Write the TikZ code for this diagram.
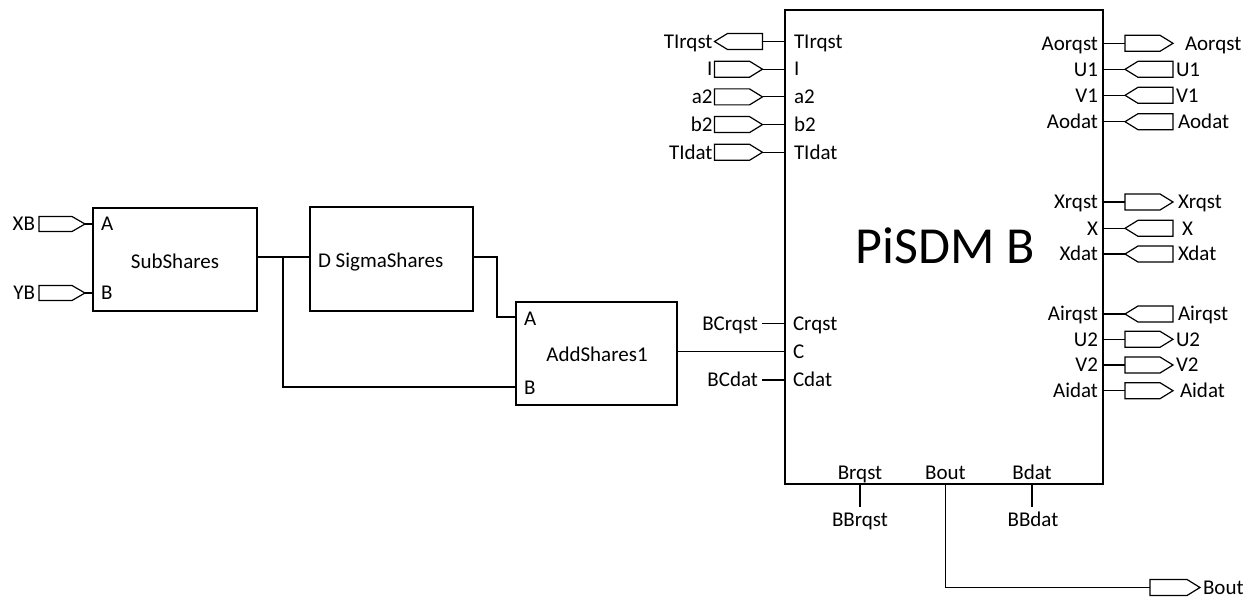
\documentclass[tikz,border=0pt]{standalone}
\usepackage{fontspec}
\setmainfont{Carlito}
\newcommand\pentR[1]{\draw[wire] (#1.north west) -- ([xshift=-13pt]#1.north east) -- (#1.east) -- ([xshift=-13pt]#1.south east) -- (#1.south west) -- cycle;}
\newcommand\pentL[1]{\draw[wire] (#1.north east) -- ([xshift=13pt]#1.north west) -- (#1.west) -- ([xshift=13pt]#1.south west) -- (#1.south east) -- cycle;}
\begin{document}
\begin{tikzpicture}[x=1pt,y=-1pt,
  every node/.style={font=\fontsize{21}{25}\selectfont, inner sep=0pt, outer sep=0pt},
  wire/.style={line width=1.2pt},
  block/.style={draw, line width=1.2pt, rectangle, inner sep=0pt},
  lbl/.style={text height=13.5pt, text depth=0pt},
  portbox/.style={rectangle, minimum width=48pt, minimum height=16pt}
]
\useasboundingbox (0,0) rectangle (1251,599);

% ---- main block
\node[block, minimum width=318pt, minimum height=474pt] (pisdm) at (944,247) {};
\node[font=\fontsize{52}{60}\selectfont, text height=34pt, text depth=0pt] (title) at (945,246) {PiSDM B};

% ---- left ports of PiSDM
\foreach \n/\y/\p in {TIrqst/41.5/\pentL, I/69.2/\pentR, a2/96.9/\pentR, b2/124.6/\pentR, TIdat/152.3/\pentR}{
  \node[portbox] (L\n) at (738.5,\y) {};
  \p{L\n}
  \node[lbl, anchor=east] (LL\n) at ([xshift=-2pt]L\n.west) {\n};
  \node[lbl, anchor=west] (LI\n) at (794,\y) {\n};
  \draw[wire] (L\n.east) -- (L\n.east -| pisdm.west);
}

% ---- right ports of PiSDM
\foreach \n/\y/\p/\lx in {Aorqst/43.3/\pentR/1185, U1/69.3/\pentL/1176, V1/95.3/\pentL/1176, Aodat/121.7/\pentL/1178,
    Xrqst/202/\pentR/1178, X/228.3/\pentL/1182, Xdat/254/\pentL/1178,
    Airqst/314/\pentL/1178, U2/339.3/\pentR/1176, V2/365/\pentR/1176, Aidat/390.7/\pentR/1180}{
  \node[portbox] (R\n) at (1149,\y) {};
  \p{R\n}
  \node[lbl, anchor=west] (RL\n) at (\lx,\y) {\n};
  \node[lbl, anchor=east] (RI\n) at (1098,\y) {\n};
  \draw[wire] (pisdm.east |- R\n.west) -- (R\n.west);
}

% ---- left C pins
\foreach \n/\y in {Crqst/323.3, C/351.7, Cdat/380}{
  \node[lbl, anchor=west] (CI\n) at (793,\y) {\n};
}
\node[lbl, anchor=east] (BCrqst) at (758,323.3) {BCrqst};
\node[lbl, anchor=east] (BCdat) at (758,380) {BCdat};
\draw[wire] ([xshift=4pt]BCrqst.east) -- (BCrqst.east -| pisdm.west);
\draw[wire] ([xshift=4pt]BCdat.east) -- (BCdat.east -| pisdm.west);

% ---- bottom pins
\node[lbl] (bBrqst) at (860,473) {Brqst};
\node[lbl] (bBout) at (945.5,473) {Bout};
\node[lbl] (bBdat) at (1032,473) {Bdat};
\node[lbl] (BBrqst) at (860,520) {BBrqst};
\node[lbl] (BBdat) at (1033,520) {BBdat};
\draw[wire] (pisdm.south -| bBrqst) -- ++(0,23);
\draw[wire] (pisdm.south -| bBdat) -- ++(0,23);
\node[portbox, minimum width=50pt] (pBout) at (1175,587.5) {};
\pentR{pBout}
\node[lbl, anchor=west] (lBout) at (1203,588) {Bout};
\draw[wire] (pisdm.south -| bBout) |- (pBout.west);

% ---- SubShares
\node[block, minimum width=164pt, minimum height=103pt] (sub) at (175,259.5) {};
\node[lbl] (subT) at (175,261.5) {SubShares};
\node[lbl, anchor=west] (subA) at (101,224) {A};
\node[lbl, anchor=west] (subB) at (101,293) {B};
\node[portbox, minimum width=46pt, minimum height=15pt] (pXB) at (62,224) {};
\node[portbox, minimum width=46pt, minimum height=15pt] (pYB) at (62,293) {};
\pentR{pXB}
\pentR{pYB}
\node[lbl, anchor=east] (lXB) at (35,224) {XB};
\node[lbl, anchor=east] (lYB) at (35,293) {YB};
\draw[wire] (pXB.east) -- (pXB.east -| sub.west);
\draw[wire] (pYB.east) -- (pYB.east -| sub.west);

% ---- SigmaShares
\node[block, minimum width=163pt, minimum height=104pt] (sig) at (391.5,259) {};
\node[lbl, anchor=west] (sigT) at (318,261) {D SigmaShares};

% ---- AddShares1
\node[block, minimum width=161pt, minimum height=103pt] (add) at (596.5,353.5) {};
\node[lbl] (addT) at (597,355) {AddShares1};
\node[lbl, anchor=west] (addA) at (524,319) {A};
\node[lbl, anchor=west] (addB) at (524,387.5) {B};

% ---- connections
\coordinate (j) at (283,257);
\draw[wire] (sub.east |- j) -- (sig.west |- j);
\draw[wire] (j) |- (add.west |- 0,387);
\draw[wire] (sig.east |- j) -- (497,257) |- (add.west |- 0,317);
\draw[wire] (add.east |- 0,351.7) -- (pisdm.west |- 0,351.7);
\end{tikzpicture}
\end{document}
